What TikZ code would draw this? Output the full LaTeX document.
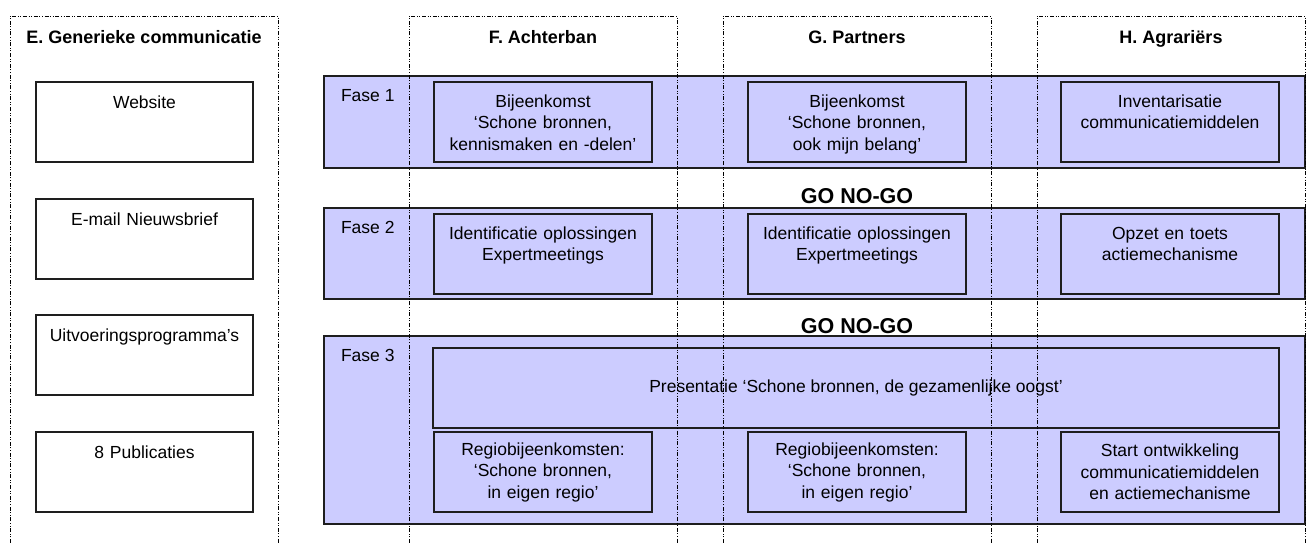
\documentclass[tikz,border=0pt]{standalone}
\usepackage{fontspec}
\setmainfont{Liberation Sans}
\definecolor{phase}{RGB}{204,204,255}
\definecolor{edge}{RGB}{30,30,30}
\begin{document}
\begin{tikzpicture}[x=1pt,y=-1pt,
  every node/.style={inner sep=0pt, outer sep=0pt},
  band/.style={rectangle, draw=edge, line width=1.2pt, fill=phase, anchor=north west},
  card/.style={rectangle, draw=edge, line width=1.4pt, minimum width=218pt, minimum height=80pt},
  actbox/.style={card, fill=phase},
  mediabox/.style={card, fill=white},
  txt/.style={font=\fontsize{17.5}{21.5}\selectfont, text width=214pt, align=center, anchor=base},
  midtxt/.style={font=\fontsize{17.5}{21.5}\selectfont, text width=214pt, align=center, anchor=center},
  faselabel/.style={font=\fontsize{17.5}{21.5}\selectfont, anchor=base west},
  head/.style={font=\bfseries\fontsize{18}{22}\selectfont, anchor=base},
  gate/.style={font=\bfseries\fontsize{21.5}{25}\selectfont, anchor=base},
  lane/.style={draw=black, line width=1pt,
    dash pattern=on 4pt off 1.6pt on 1pt off 1.6pt on 1pt off 1.6pt},
]
\useasboundingbox (0,0) rectangle (1306,542);

% phase bands
\node[band, minimum width=981pt, minimum height=92pt]  (fase1) at (324,76) {};
\node[band, minimum width=981pt, minimum height=91pt]  (fase2) at (324,208) {};
\node[band, minimum width=981pt, minimum height=188pt] (fase3) at (324,336) {};
\node[faselabel] (fase1l) at (341,101) {Fase 1};
\node[faselabel] (fase2l) at (341,233) {Fase 2};
\node[faselabel] (fase3l) at (341,361) {Fase 3};

% generic communication media
\node[mediabox, minimum width=217pt] (web)  at (144.5,122) {};
\node[mediabox, minimum width=217pt] (mail) at (144.5,239) {};
\node[mediabox, minimum width=217pt] (prog) at (144.5,355) {};
\node[mediabox, minimum width=217pt] (publ) at (144.5,472) {};
\node[txt] (webt)  at ([yshift=-26pt]web.north)  {Website};
\node[txt] (mailt) at ([yshift=-26pt]mail.north) {E-mail Nieuwsbrief};
\node[txt] (progt) at ([yshift=-26pt]prog.north) {Uitvoeringsprogramma’s};
\node[txt] (publt) at ([yshift=-26pt]publ.north) {8 Publicaties};

% phase 1 activities
\node[actbox] (f1) at (543,122) {};
\node[actbox] (g1) at (857,122) {};
\node[actbox] (h1) at (1170,122) {};
\node[txt] (f1t) at ([yshift=-25pt]f1.north) {Bijeenkomst\\‘Schone bronnen,\\kennismaken en -delen’};
\node[txt] (g1t) at ([yshift=-25pt]g1.north) {Bijeenkomst\\‘Schone bronnen,\\ook mijn belang’};
\node[txt] (h1t) at ([yshift=-25pt]h1.north) {Inventarisatie\\communicatiemiddelen};

% phase 2 activities
\node[actbox] (f2) at (543,254) {};
\node[actbox] (g2) at (857,254) {};
\node[actbox] (h2) at (1170,254) {};
\node[txt] (f2t) at ([yshift=-25pt]f2.north) {Identificatie oplossingen\\Expertmeetings};
\node[txt] (g2t) at ([yshift=-25pt]g2.north) {Identificatie oplossingen\\Expertmeetings};
\node[txt] (h2t) at ([yshift=-25pt]h2.north) {Opzet en toets\\actiemechanisme};

% phase 3 activities
\node[actbox, minimum width=846pt] (pres) at (856,388) {};
\node[font=\fontsize{17.5}{21.5}\selectfont] (prest) at (pres.center) {Presentatie ‘Schone bronnen, de gezamenlijke oogst’};
\node[actbox] (f3) at (543,472) {};
\node[actbox] (g3) at (857,472) {};
\node[actbox] (h3) at (1170,472) {};
\node[midtxt] (f3t) at (f3.center) {Regiobijeenkomsten:\\‘Schone bronnen,\\in eigen regio’};
\node[midtxt] (g3t) at (g3.center) {Regiobijeenkomsten:\\‘Schone bronnen,\\in eigen regio’};
\node[midtxt] (h3t) at (h3.center) {Start ontwikkeling\\communicatiemiddelen\\en actiemechanisme};

% decision points
\node[gate] (gate1) at (857,203) {GO NO-GO};
\node[gate] (gate2) at (857,333) {GO NO-GO};

% target-group lanes
\draw[lane] (10,543) -- (10,16) -- (278,16) -- (278,543);
\draw[lane] (409,543) -- (409,16) -- (677,16) -- (677,543);
\draw[lane] (723,543) -- (723,16) -- (991,16) -- (991,543);
\draw[lane] (1037,543) -- (1037,16) -- (1305,16) -- (1305,543);
\node[head] (laneE) at (144,43) {E. Generieke communicatie};
\node[head] (laneF) at (543,43) {F. Achterban};
\node[head] (laneG) at (857,43) {G. Partners};
\node[head] (laneH) at (1171,43) {H. Agrariërs};
\end{tikzpicture}
\end{document}
